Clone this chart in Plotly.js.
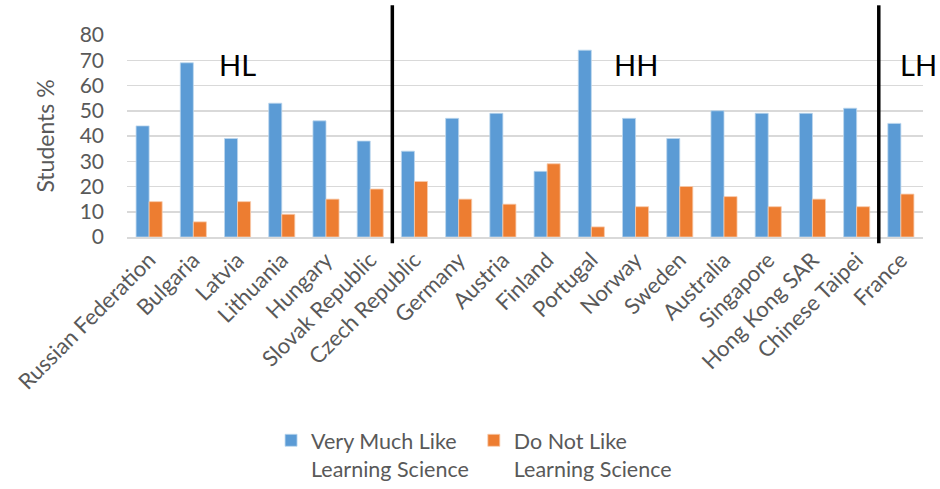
<!DOCTYPE html>
<html>
<head>
<meta charset="utf-8">
<script src="https://cdn.plot.ly/plotly-3.0.1.min.js"></script>
<style>html,body{margin:0;padding:0;background:#fff;}#chart{width:940px;height:489px;}</style>
</head>
<body>
<div id="chart"></div>
<script>
const countries = ["Russian Federation","Bulgaria","Latvia","Lithuania","Hungary","Slovak Republic","Czech Republic","Germany","Austria","Finland","Portugal","Norway","Sweden","Australia","Singapore","Hong Kong SAR","Chinese Taipei","France"];
const veryMuchLike = [44,69,39,53,46,38,34,47,49,26,74,47,39,50,49,49,51,45];
const doNotLike = [14,6,14,9,15,19,22,15,13,29,4,12,20,16,12,15,12,17];
const seriesNames = ["Very Much Like<br>Learning Science","Do Not Like<br>Learning Science"];
const groupLabels = ["HL","HH","LH"];
const groupLabelPos = [2,11,17.4];
const dividers = [5.5,16.5];

const fontFam = "Lato, 'Open Sans', sans-serif";
const traces = [
  {type:'bar', x:countries, y:veryMuchLike, name:seriesNames[0], marker:{color:'#5B9BD5', line:{color:'#BDD7EE', width:0.8}}},
  {type:'bar', x:countries, y:doNotLike, name:seriesNames[1], marker:{color:'#ED7D31', line:{color:'#F8CBAD', width:0.8}}}
];
const shapes = dividers.map(d => ({type:'line', xref:'x', yref:'paper', x0:d, x1:d, y0:-0.031, y1:1.147, line:{color:'#000', width:3.5}}));
const annotations = groupLabels.map((t,i) => ({text:t, x:groupLabelPos[i], xref:'x', y:0.95, yref:'paper', showarrow:false, font:{family:fontFam, size:29, color:'#000'}}));
const layout = {
  width:940, height:489,
  margin:{l:127, r:17, t:35, b:252, autoexpand:false},
  paper_bgcolor:'#fff', plot_bgcolor:'#fff',
  font:{family:fontFam, color:'#595959'},
  barmode:'group', bargap:0.41, bargroupgap:0,
  showlegend:true,
  legend:{orientation:'h', x:0.436, xanchor:'center', xref:'paper', y:-0.905, yanchor:'top', valign:'top', font:{size:21.5, color:'#595959'}, itemwidth:30, tracegroupgap:0},
  xaxis:{type:'category', tickangle:-45, tickfont:{size:22, color:'#595959'}, showgrid:false, showline:true, linecolor:'#D9D9D9', linewidth:1.5, ticks:'', range:[-0.5,17.5], automargin:false},
  yaxis:{range:[0,80], dtick:10, tickfont:{size:21, color:'#595959'}, showgrid:true, gridcolor:'#D9D9D9', gridwidth:1.5, zeroline:false, showline:false, ticks:'', automargin:false, ticklabelstandoff:22,
    title:{text:'Students %', font:{size:23, color:'#595959'}, standoff:18}},
  shapes:shapes,
  annotations:annotations
};
Plotly.newPlot('chart', traces, layout, {displayModeBar:false, staticPlot:true});
</script>
</body>
</html>
